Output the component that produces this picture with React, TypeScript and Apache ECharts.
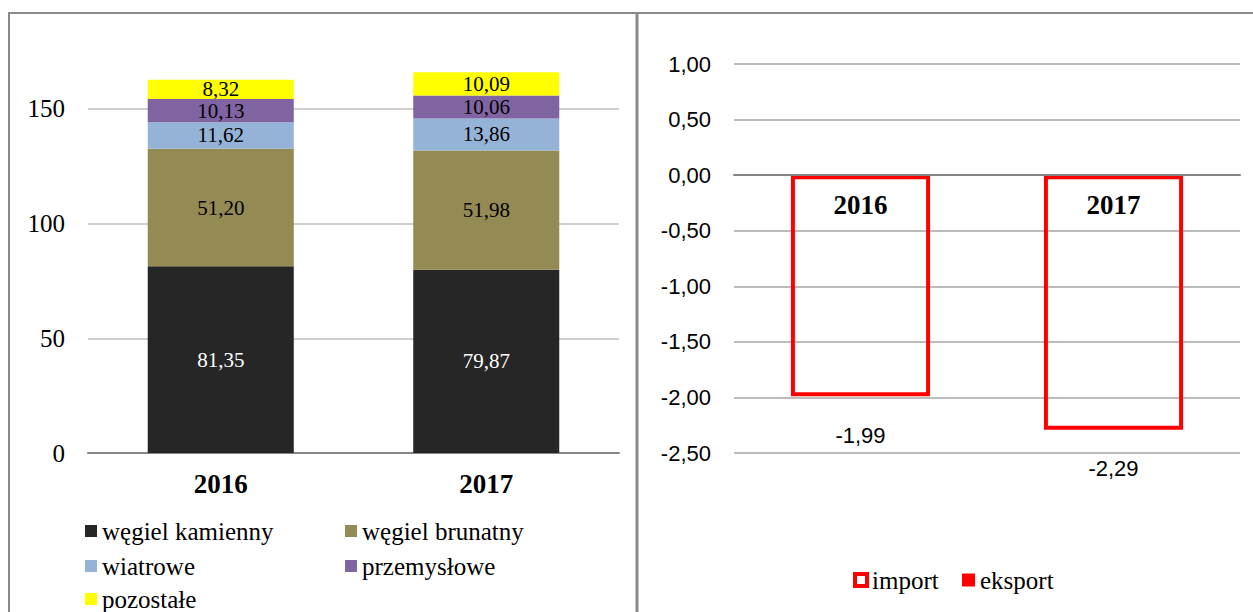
import React, { useEffect, useRef } from "react";
import * as echarts from "echarts";

const years = ["2016", "2017"];
const seriesNames = ["węgiel kamienny", "węgiel brunatny", "wiatrowe", "przemysłowe", "pozostałe"];
const kamienny = [81.35, 79.87];
const brunatny = [51.2, 51.98];
const wiatrowe = [11.62, 13.86];
const przemyslowe = [10.13, 10.06];
const pozostale = [8.32, 10.09];
const seriesColors = ["#262626", "#948A54", "#95B3D7", "#8064A2", "#FFFF00"];
const labelColors = ["#FFFFFF", "#000000", "#000000", "#000000", "#000000"];

const balanceNames = ["import", "eksport"];
const importValues = [-1.99, -2.29];
const eksportValues = [0, 0];

const SERIF = "Liberation Serif";
const SANS = "Liberation Sans";

const fmt = (v: number) => v.toFixed(2).replace(".", ",");

// container is shifted up by SHIFT px so the hidden top grid line falls outside the page
const SHIFT = 6;

export default function App() {
  const ref = useRef<HTMLDivElement>(null);
  useEffect(() => {
    if (!ref.current) return;
    const chart = echarts.init(ref.current, undefined, { renderer: "svg" });
    const leftData = [kamienny, brunatny, wiatrowe, przemyslowe, pozostale];
    const border = "#8A8A8A";
    const legendText = { fontFamily: SERIF, fontSize: 25, lineHeight: 25, color: "#000" };
    // legend slots for left chart: [seriesIndex, left, top(page)]
    const leftLegendSlots: [number, number, number][] = [
      [0, 85, 518.5],
      [1, 345, 518.5],
      [2, 85, 553.5],
      [3, 345, 553.5],
      [4, 85, 586.5],
    ];
    const option: any = {
      animation: false,
      backgroundColor: "#FFFFFF",
      graphic: [
        { type: "line", shape: { x1: 8, y1: 13 + SHIFT, x2: 1253, y2: 13 + SHIFT }, style: { stroke: border, lineWidth: 2 } },
        { type: "line", shape: { x1: 9, y1: 13 + SHIFT, x2: 9, y2: 640 }, style: { stroke: border, lineWidth: 2 } },
        { type: "line", shape: { x1: 637, y1: 13 + SHIFT, x2: 637, y2: 640 }, style: { stroke: border, lineWidth: 3 } },
      ],
      grid: [
        { left: 88, width: 531, top: 0, height: 459 },
        { left: 734, width: 506, top: 64 + SHIFT, height: 389 },
        { left: 734, width: 506, top: 64 + SHIFT, height: 111 },
      ],
      legend: [
        ...leftLegendSlots.map(([i, l, t]) => ({
          left: l,
          top: t + SHIFT,
          padding: 0,
          itemWidth: 12,
          itemHeight: 12,
          icon: "rect",
          data: [seriesNames[i]],
          textStyle: legendText,
        })),
        {
          left: 853,
          top: 567.5 + SHIFT,
          padding: 0,
          itemWidth: 12,
          itemHeight: 12,
          icon: "rect",
          data: [{ name: balanceNames[0], itemStyle: { color: "#FFFFFF", borderColor: "#FF0000", borderWidth: 4 } }],
          textStyle: legendText,
        },
        {
          left: 962,
          top: 567.5 + SHIFT,
          padding: 0,
          itemWidth: 13,
          itemHeight: 13,
          icon: "rect",
          data: [{ name: balanceNames[1], itemStyle: { color: "#FF0000", borderWidth: 0 } }],
          textStyle: legendText,
        },
      ],
      xAxis: [
        {
          type: "category",
          gridIndex: 0,
          data: years,
          axisLine: { lineStyle: { color: "#868686", width: 2 } },
          axisTick: { length: 7, lineStyle: { color: "#868686", width: 2 } },
          axisLabel: { margin: 17, fontFamily: SERIF, fontWeight: "bold", fontSize: 27, color: "#000" },
        },
        {
          type: "category",
          gridIndex: 1,
          data: years,
          show: false,
        },
        {
          type: "category",
          gridIndex: 2,
          data: years,
          axisLine: { lineStyle: { color: "#868686", width: 2 } },
          axisTick: { length: 7, lineStyle: { color: "#868686", width: 2 } },
          axisLabel: { margin: 16, fontFamily: SERIF, fontWeight: "bold", fontSize: 27, color: "#000" },
          z: 5,
        },
      ],
      yAxis: [
        {
          type: "value",
          gridIndex: 0,
          min: 0,
          max: 200,
          interval: 50,
          axisLine: { show: false },
          axisTick: { show: false },
          splitLine: { lineStyle: { color: "#BEBEBE", width: 1.5 } },
          axisLabel: { showMaxLabel: false, margin: 23, fontFamily: SERIF, fontSize: 25, color: "#000" },
        },
        {
          type: "value",
          gridIndex: 1,
          min: -2.5,
          max: 1,
          interval: 0.5,
          axisLine: { show: false },
          axisTick: { show: false },
          splitLine: { lineStyle: { color: "#A6A6A6", width: 1.5 } },
          axisLabel: { margin: 23, fontFamily: SANS, fontSize: 22, color: "#000", formatter: (v: number) => fmt(v) },
        },
        {
          type: "value",
          gridIndex: 2,
          min: 0,
          max: 1,
          show: false,
        },
      ],
      series: [
        ...leftData.map((d, i) => ({
          name: seriesNames[i],
          type: "bar",
          stack: "left",
          xAxisIndex: 0,
          yAxisIndex: 0,
          barWidth: "55%",
          data: d,
          itemStyle: { color: seriesColors[i] },
          label: {
            show: true,
            position: "inside",
            fontFamily: SERIF,
            fontSize: 21,
            lineHeight: 18,
            color: labelColors[i],
            formatter: (p: any) => fmt(p.value),
          },
        })),
        {
          name: balanceNames[0],
          type: "bar",
          stack: "right",
          xAxisIndex: 1,
          yAxisIndex: 1,
          barWidth: "55%",
          data: importValues,
          itemStyle: { color: "transparent", borderColor: "#FF0000", borderWidth: 4 },
          label: {
            show: true,
            position: "bottom",
            distance: 28,
            fontFamily: SANS,
            fontSize: 22,
            color: "#000",
            formatter: (p: any) => fmt(p.value),
          },
        },
        {
          name: balanceNames[1],
          type: "bar",
          stack: "right",
          xAxisIndex: 1,
          yAxisIndex: 1,
          barWidth: "55%",
          data: eksportValues,
          itemStyle: { color: "#FF0000" },
        },
      ],
    };
    chart.setOption(option);
    return () => chart.dispose();
  }, []);
  return (
    <div
      ref={ref}
      style={{ position: "absolute", left: 0, top: -SHIFT, width: 1253, height: 612 + SHIFT, background: "#fff" }}
    />
  );
}
